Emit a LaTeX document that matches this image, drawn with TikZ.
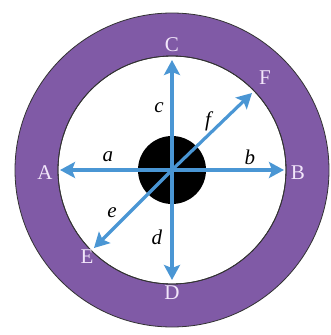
\documentclass[tikz,border=0pt]{standalone}
\usepackage{fontspec}
\setmainfont{Liberation Serif}
\usetikzlibrary{arrows.meta}
\definecolor{ringpurple}{RGB}{128,90,166}
\definecolor{arrowblue}{RGB}{74,150,212}
\definecolor{lettercol}{RGB}{242,230,250}
\tikzset{
  pt/.style={text=lettercol,font=\fontsize{21}{23}\selectfont},
  len/.style={font=\fontsize{21}{23}\selectfont\itshape}
}

\begin{document}
\begin{tikzpicture}[x=1pt,y=1pt,>={Stealth[length=15pt,width=16pt,inset=3pt]}]
  \useasboundingbox (-172,-165) rectangle (158,170);
  \fill[ringpurple,even odd rule,draw=black!80,line width=0.8pt] (0,0) circle (157) (0,0) circle (114);
  \draw[black!80,line width=0.8pt] (0,0) circle (114);
  \node[circle,fill=black,minimum size=68pt,inner sep=0pt] (O) at (0,0) {};
  \coordinate (a) at (-112,0);
  \coordinate (b) at (112,0);
  \coordinate (c) at (0,110);
  \coordinate (d) at (0,-110);
  \coordinate (e) at (-78,-78);
  \coordinate (f) at (80,77);
  \draw[->,arrowblue,line width=3.2pt] (O.center)--(a);
  \draw[->,arrowblue,line width=3.2pt] (O.center)--(b);
  \draw[->,arrowblue,line width=3.2pt] (O.center)--(c);
  \draw[->,arrowblue,line width=3.2pt] (O.center)--(d);
  \draw[->,arrowblue,line width=3.2pt] (O.center)--(e);
  \draw[->,arrowblue,line width=3.2pt] (O.center)--(f);
  \node[pt] (A) at (-127,-3) {A};
  \node[pt] (B) at (126,-3) {B};
  \node[pt] (C) at (0,125) {C};
  \node[pt] (D) at (0,-123) {D};
  \node[pt] (E) at (-85,-87) {E};
  \node[pt] (F) at (93,92) {F};
  \node[len] (la) at (-64,13) {a};
  \node[len] (lb) at (78,13) {b};
  \node[len] (lc) at (-13,62) {c};
  \node[len] (ld) at (-15,-67) {d};
  \node[len] (le) at (-60,-43) {e};
  \node[len] (lf) at (36,49) {f};
\end{tikzpicture}
\end{document}
